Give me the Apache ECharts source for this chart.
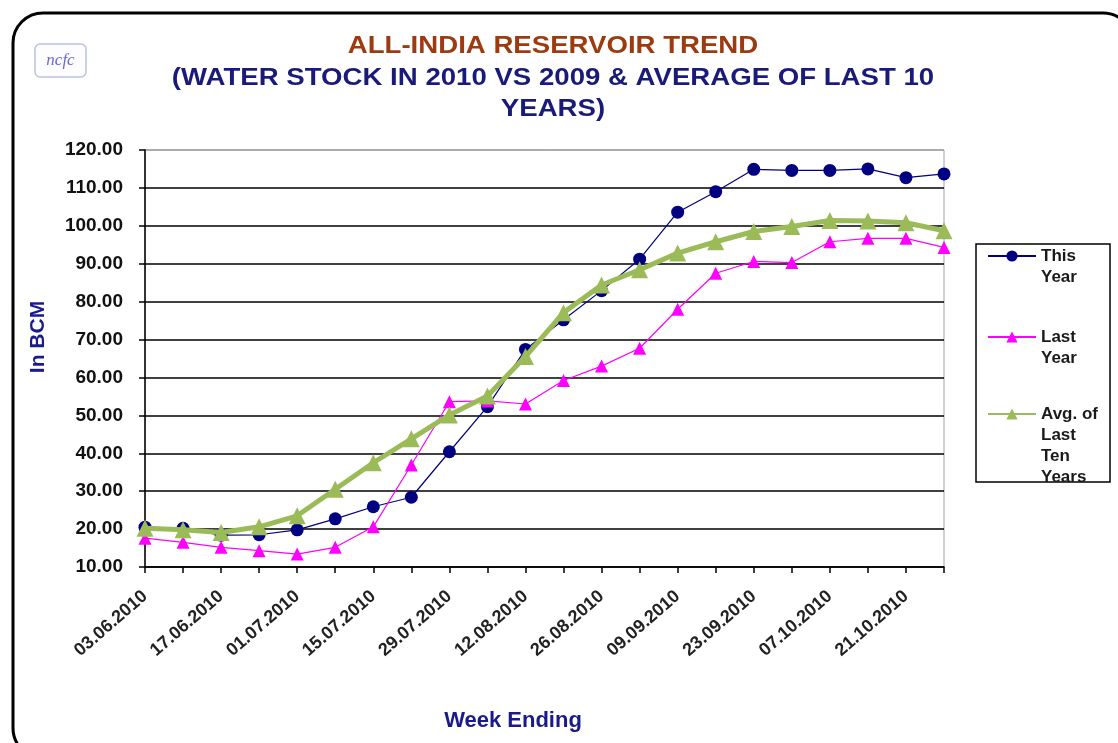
<!DOCTYPE html>
<html><head><meta charset="utf-8">
<script src="https://cdn.jsdelivr.net/npm/echarts@6/dist/echarts.min.js"></script>
<style>html,body{margin:0;padding:0;background:#fff}#c{width:1118px;height:743px}</style>
</head><body><div id="c"></div>
<script>
const categories = ["03.06.2010","10.06.2010","17.06.2010","24.06.2010","01.07.2010","08.07.2010","15.07.2010","22.07.2010","29.07.2010","05.08.2010","12.08.2010","19.08.2010","26.08.2010","02.09.2010","09.09.2010","16.09.2010","23.09.2010","30.09.2010","07.10.2010","14.10.2010","21.10.2010","28.10.2010"];
const thisYear = [20.5,20.2,18.4,18.5,19.8,22.7,25.9,28.4,40.4,52.3,67.4,75.2,82.9,91.2,103.6,109.0,114.9,114.6,114.6,115.0,112.7,113.7];
const lastYear = [17.6,16.5,15.2,14.3,13.4,15.2,20.6,36.9,53.6,53.8,53.0,59.2,63.0,67.7,78.0,87.5,90.6,90.3,95.8,96.7,96.7,94.3];
const avgTen = [20.2,19.8,19.1,20.6,23.5,30.5,37.5,43.8,50.1,55.1,65.5,77.1,84.4,88.4,92.8,95.8,98.5,99.8,101.4,101.3,100.8,98.7];
const seriesNames = ["This Year","Last Year","Avg. of Last Ten Years"];
const legendLines = [["This","Year"],["Last","Year"],["Avg. of","Last","Ten","Years"]];
const legendFirstLineY = [256, 337, 414];

const chart = echarts.init(document.getElementById('c'));
const F = 'Liberation Sans, Arial, sans-serif';
const LH = 21;
const splitColors = [];
for (let i = 0; i < 12; i++) splitColors.push(i === 11 ? '#a0a0a0' : '#000');

const legends = seriesNames.map((name, i) => {
  const n = legendLines[i].length;
  const itemH = 14;
  const blockTop = itemH / 2 - (2 * n - 1) * LH / 2;
  const firstOffset = itemH / 2 - blockTop;
  const pad = [];
  for (let k = 1; k < n; k++) pad.push(' ');
  return {
    orient:'vertical', left:987, top: legendFirstLineY[i] - firstOffset,
    data:[name], formatter: () => pad.concat(legendLines[i]).join('\n'),
    itemWidth:48, itemHeight:itemH, padding:0, selectedMode:false,
    textStyle:{fontFamily:F, fontWeight:'bold', fontSize:17, color:'#1a1a1a', lineHeight:LH}
  };
});

chart.setOption({
  animation: false,
  backgroundColor: '#fff',
  graphic: [
    {type:'rect', shape:{x:13,y:13,width:1120,height:745,r:30}, style:{fill:'none',stroke:'#000',lineWidth:3}, z:-1},
    {type:'rect', shape:{x:35,y:44,width:51,height:33,r:5}, style:{fill:'#fdfdff',stroke:'#b8c4e0',lineWidth:1.5}},
    {type:'text', x:60.5, y:60.5, style:{text:'ncfc', font:'italic 17px "Liberation Serif", "DejaVu Serif", serif', fill:'#6a6ad0', align:'center', verticalAlign:'middle'}},
    {type:'text', x:553, y:46, scaleX:1.15, style:{text:'ALL-INDIA RESERVOIR TREND', font:'bold 24px '+F, fill:'#9c3a10', align:'center', verticalAlign:'middle'}},
    {type:'text', x:553, y:78, scaleX:1.15, style:{text:'(WATER STOCK IN 2010 VS 2009 & AVERAGE OF LAST 10', font:'bold 24px '+F, fill:'#1a1a7a', align:'center', verticalAlign:'middle'}},
    {type:'text', x:553, y:109, scaleX:1.15, style:{text:'YEARS)', font:'bold 24px '+F, fill:'#1a1a7a', align:'center', verticalAlign:'middle'}},
    {type:'text', x:38, y:337, rotation:Math.PI/2, style:{text:'In BCM', font:'bold 21px '+F, fill:'#1a1a8a', align:'center', verticalAlign:'middle'}},
    {type:'text', x:513, y:721, style:{text:'Week Ending', font:'bold 22px '+F, fill:'#1a1a8a', align:'center', verticalAlign:'middle'}},
    {type:'rect', shape:{x:976,y:244,width:134,height:238}, style:{fill:'none',stroke:'#000',lineWidth:1.5}}
  ],
  grid: {left:145, right:174, top:150, bottom:176, show:true, borderColor:'#a0a0a0', borderWidth:1},
  legend: legends,
  xAxis: {
    type:'category', data: categories, boundaryGap:false,
    axisLine:{lineStyle:{color:'#000', width:1.5}},
    axisTick:{show:true, interval:0, length:6, lineStyle:{color:'#000',width:1.5}},
    axisLabel:{interval:1, rotate:41, fontFamily:F, fontWeight:'bold', fontSize:18, color:'#222', margin:27}
  },
  yAxis: {
    type:'value', min:10, max:120, interval:10,
    axisLine:{show:true, lineStyle:{color:'#000', width:1.5}},
    axisTick:{show:true, length:6, lineStyle:{color:'#000',width:1.5}},
    axisLabel:{formatter: v => v.toFixed(2), fontFamily:F, fontWeight:'bold', fontSize:19, color:'#111', margin:22},
    splitLine:{show:true, lineStyle:{color:splitColors, width:1.5}}
  },
  series: [
    {name:seriesNames[0], type:'line', data:thisYear, symbol:'circle', symbolSize:13,
     lineStyle:{color:'#000080', width:1.2}, itemStyle:{color:'#000080'}, z:3},
    {name:seriesNames[1], type:'line', data:lastYear, symbol:'triangle', symbolSize:13,
     lineStyle:{color:'#ff00ff', width:1.2}, itemStyle:{color:'#ff00ff'}, z:4},
    {name:seriesNames[2], type:'line', data:avgTen, symbol:'triangle', symbolSize:17,
     lineStyle:{color:'#9bbb59', width:5}, itemStyle:{color:'#9bbb59'}, z:5}
  ]
});
</script></body></html>
